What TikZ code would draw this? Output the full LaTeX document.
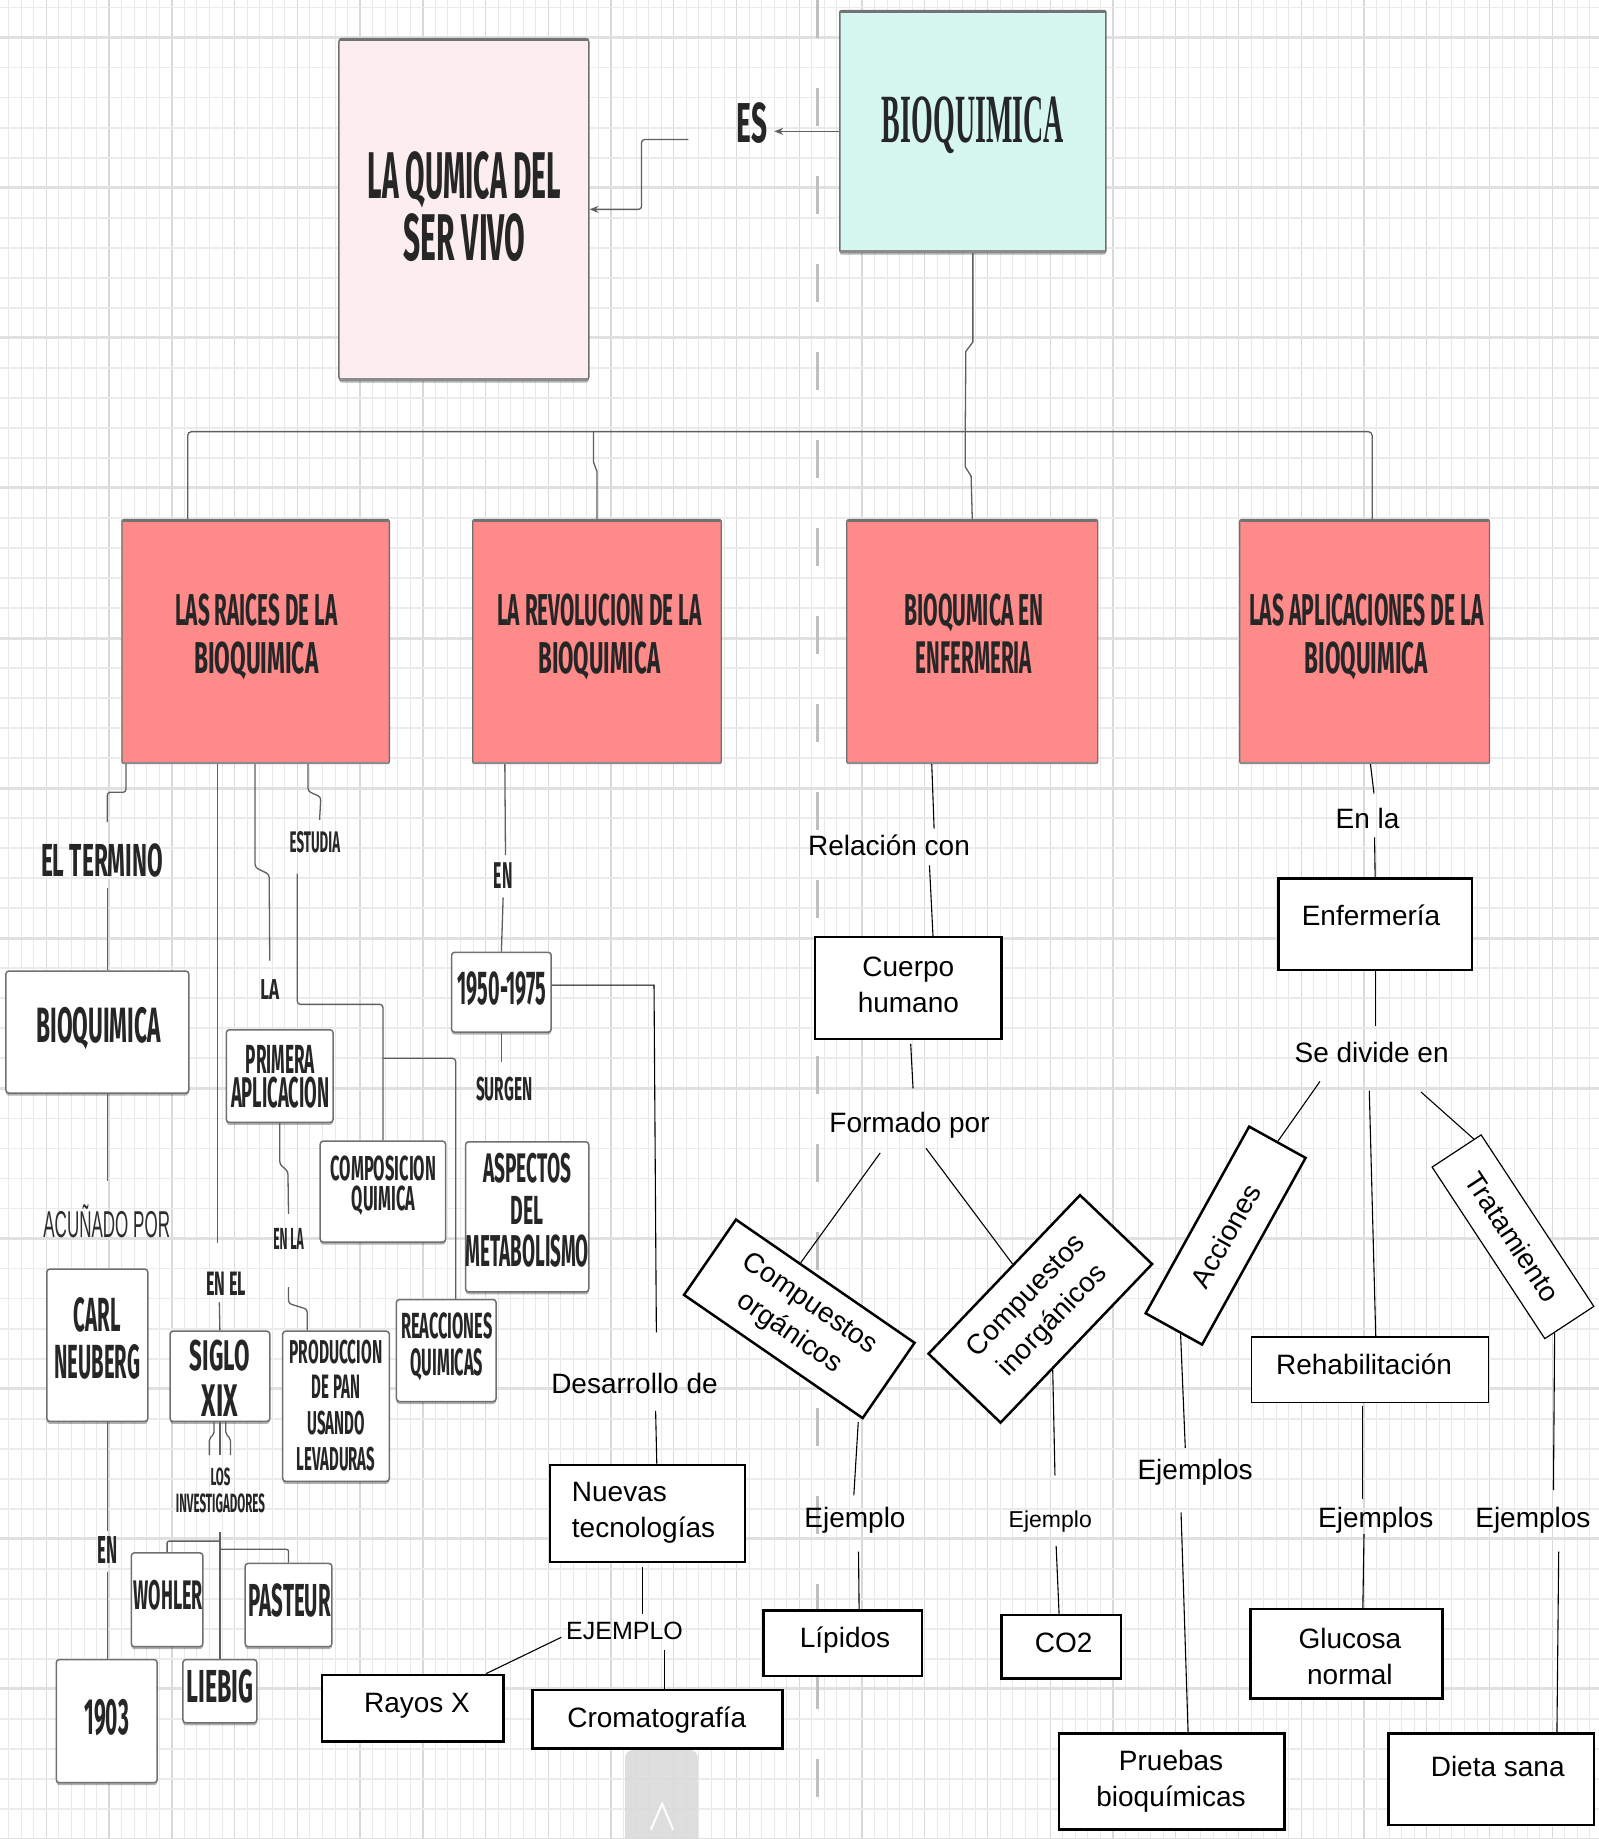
\documentclass[tikz,border=0pt]{standalone}
\usepackage{fontspec}
\usepackage{graphicx}
\setmainfont{Liberation Sans}
\newfontfamily\comicfam{Fira Sans}
\newfontfamily\serifcond{Liberation Serif}
\usetikzlibrary{calc,arrows.meta,shadows}
\newdimen\myu \myu=1.1732pt
\newcommand{\ct}[3]{\resizebox{#1\myu}{#2\myu}{\comicfam\bfseries #3}}
\newcommand{\st}[3]{\resizebox{#1\myu}{#2\myu}{#3}}
\definecolor{redbox}{HTML}{FF8A8A}
\definecolor{pinkbox}{HTML}{FCEEEE}
\definecolor{cyanbox}{HTML}{D5F7F0}
\definecolor{boxgray}{HTML}{707070}
\definecolor{linegray}{HTML}{5F5F5F}
\definecolor{comictxt}{HTML}{262626}
\definecolor{acugray}{HTML}{2E2E2E}
\tikzset{
  bw/.style={minimum width={#1*1.1732pt}},
  bh/.style={minimum height={#1*1.1732pt}},
  cbox/.style={draw=boxgray, line width=1.5pt, fill=white, rounded corners=3pt, inner sep=0pt,
    drop shadow={shadow xshift=0pt, shadow yshift=-2.5pt, fill=black, opacity=0.3}},
  rbox/.style={draw=boxgray, line width=1.3pt, fill=redbox, rounded corners=2pt, inner sep=0pt},
  abox/.style={draw=black, line width=2.5pt, fill=white, inner sep=0pt, align=center,
    font=\fontsize{28}{36}\selectfont},
  tbox/.style={abox, line width=1.2pt},
  ctx/.style={inner sep=0pt, anchor=north, align=center, text=comictxt, font=\fontsize{10}{#1}\selectfont},
  ctx/.default=14,
  lab/.style={inner sep=0pt, anchor=base, font=\fontsize{28}{36}\selectfont},
  gl/.style={draw=linegray, line width=1.3pt},
  bl/.style={draw=black, line width=1.1pt},
  garr/.style={gl, -{Stealth[length=9pt,width=7pt]}},
  gmin/.style={draw=black!9, line width=0.9pt},
  gmaj/.style={draw=black!15, line width=1.4pt},
  hmin/.style={draw=black!8, line width=1.8pt},
  hmaj/.style={draw=black!12, line width=3pt},
}
\begin{document}
\begin{tikzpicture}[x=1.1732pt, y=-1.1732pt]
\useasboundingbox (0,0) rectangle (1363,1568);
\fill[white] (0,0) rectangle (1363,1568);
% ---------- background grid
\foreach \i in {0,...,128}{
  \pgfmathtruncatemacro{\m}{mod(\i,5)}
  \pgfmathsetmacro{\xx}{-3.3+\i*10.7}
  \ifnum\m=4 \draw[gmaj] (\xx,0) -- (\xx,1568); \else \draw[gmin] (\xx,0) -- (\xx,1568); \fi
}
\foreach \j in {0,...,61}{
  \pgfmathtruncatemacro{\m}{mod(\j,5)}
  \pgfmathsetmacro{\yy}{6.4+\j*25.6}
  \ifnum\m=1 \draw[hmaj] (0,\yy) -- (1363,\yy); \else \draw[hmin] (0,\yy) -- (1363,\yy); \fi
}
\draw[black!25, line width=3pt, dash pattern=on 38pt off 50pt] (697,0) -- (697,1568);
\fill[black!15, opacity=0.85, rounded corners=8pt] (533,1492) rectangle (595,1590);
\draw[white, line width=2pt] (555,1560) -- (564.5,1538) -- (574,1560);

% ---------- top
\node[cbox, fill=pinkbox, bw=213, bh=291] (lq) at (395.5,178.5) {};
\node[ctx=62] (lqT) at (396,129) {\ct{165}{40}{LA QUMICA DEL}\\\ct{104}{40}{SER VIVO}};
\node[cbox, fill=cyanbox, bw=227, bh=206, rounded corners=2pt] (bq) at (829.5,112) {};
\node[ctx, text=black!85] (bqT) at (829.5,82) {\st{155}{39}{\serifcond\bfseries BIOQUIMICA}};
\node[ctx] (esT) at (641,87) {\ct{26}{34}{ES}};

% ---------- level 2 red boxes
\node[rbox, bw=228, bh=208] (rA) at (218,547) {};
\node[rbox, bw=212, bh=208] (rB) at (509,547) {};
\node[rbox, bw=214, bh=208] (rC) at (829,547) {};
\node[rbox, bw=213, bh=208] (rD) at (1163.5,547) {};
\foreach \n in {lq,bq,rA,rB,rC,rD}{
  \draw[line width=3.5pt, black!55, line cap=round] ($(\n.north west)+(2,1.5)$) -- ($(\n.north east)+(-2,1.5)$);
  \draw[line width=2.5pt, black!45, line cap=round] ($(\n.south west)+(2,-1)$) -- ($(\n.south east)+(-2,-1)$);
}
\node[ctx=48] (rAT) at (218.5,506) {\ct{138}{27}{LAS RAICES DE LA}\\\ct{106}{27}{BIOQUIMICA}};
\node[ctx=48] (rBT) at (511,506) {\ct{174}{27}{LA REVOLUCION DE LA}\\\ct{104}{27}{BIOQUIMICA}};
\node[ctx=48] (rCT) at (830.5,506) {\ct{119}{27}{BIOQUMICA EN}\\\ct{99}{27}{ENFERMERIA}};
\node[ctx=48] (rDT) at (1165,506) {\ct{200}{27}{LAS APLICACIONES DE LA}\\\ct{105}{27}{BIOQUIMICA}};

% ---------- left comic part
\node[ctx] (elT) at (87,719) {\ct{104}{28}{EL TERMINO}};
\node[cbox, bw=156, bh=104] (lbq) at (83,880) {};
\node[ctx] (lbqT) at (84,859) {\ct{106}{30}{BIOQUIMICA}};
\node[ctx, text=acugray] (acuT) at (91,1027) {\st{108}{28}{ACUÑADO POR}};
\node[cbox, bw=86, bh=130] (carl) at (83,1147) {};
\node[ctx=47] (carlT) at (83,1106) {\ct{40}{29}{CARL}\\\ct{73}{29}{NEUBERG}};
\node[ctx] (enAT) at (91.5,1310) {\ct{17}{23}{EN}};
\node[cbox, bw=86, bh=105] (y1903) at (91,1467.5) {};
\node[ctx] (y1903T) at (91,1449) {\ct{38}{30}{1903}};
\node[ctx] (enelT) at (193,1084) {\ct{34}{20}{EN EL}};
\node[cbox, bw=85, bh=77] (siglo) at (187.5,1173.5) {};
\node[ctx=46] (sigloT) at (187.5,1142) {\ct{51}{26}{SIGLO}\\\ct{31}{27}{XIX}};
\node[ctx=27] (invT) at (188,1251) {\ct{17}{15}{LOS}\\\ct{76}{16}{INVESTIGADORES}};
\node[cbox, bw=61, bh=80] (woh) at (142.5,1364) {};
\node[ctx] (wohT) at (143.5,1347) {\ct{59}{25}{WOHLER}};
\node[cbox, bw=74, bh=71] (pas) at (246,1368.5) {};
\node[ctx] (pasT) at (247,1350) {\ct{70}{28}{PASTEUR}};
\node[cbox, bw=63, bh=54] (lie) at (187.5,1442) {};
\node[ctx] (lieT) at (187.5,1423) {\ct{57}{28}{LIEBIG}};
\node[ctx] (laT) at (230,835) {\ct{16}{17}{LA}};
\node[cbox, bw=91, bh=79] (prim) at (238.5,917.5) {};
\node[ctx=34] (primT) at (239,891) {\ct{59}{24}{PRIMERA}\\\ct{84}{26}{APLICACION}};
\node[ctx] (enlaT) at (246,1047) {\ct{26}{18}{EN LA}};
\node[cbox, bw=91, bh=128] (prod) at (286.5,1199) {};
\node[ctx=35.8] (prodT) at (286.5,1142) {\ct{79}{20}{PRODUCCION}\\\ct{41}{20}{DE PAN}\\\ct{49}{20}{USANDO}\\\ct{67}{20}{LEVADURAS}};
\node[ctx] (estT) at (268.5,709) {\ct{43}{18}{ESTUDIA}};
\node[cbox, bw=107, bh=86] (comp) at (326.5,1016) {};
\node[ctx=30.5] (compT) at (327,985) {\ct{90}{21}{COMPOSICION}\\\ct{54}{21}{QUIMICA}};
\node[cbox, bw=85, bh=87] (reac) at (380.5,1151.5) {};
\node[ctx=37.5] (reacT) at (381,1119) {\ct{78}{22}{REACCIONES}\\\ct{62}{23}{QUIMICAS}};
\node[ctx] (enBT) at (429,735) {\ct{16}{22}{EN}};
\node[cbox, bw=85, bh=68] (y1950) at (427.5,846) {};
\node[ctx] (y1950T) at (428,828) {\ct{76}{28}{1950-1975}};
\node[ctx] (surT) at (430,918) {\ct{48}{20}{SURGEN}};
\node[cbox, bw=105, bh=128] (asp) at (449.5,1037.5) {};
\node[ctx=42] (aspT) at (449.5,983) {\ct{75}{25}{ASPECTOS}\\\ct{28}{24}{DEL}\\\ct{105}{27}{METABOLISMO}};

% ---------- right part (Arial)
\node[lab] (desT) at (541,1188) {Desarrollo de};
\node[abox, bw=166, bh=83] (nuev) at (552,1290.5) {};
\node[lab, anchor=north west, align=left] (nuevT) at (487.5,1264) {Nuevas\\tecnologías};
\node[lab, font=\fontsize{25}{30}\selectfont] (ejemT) at (532.5,1398) {EJEMPLO};
\node[abox, bw=155, bh=57] (rayos) at (352,1456.5) {};
\node[lab] (rayosT) at (355.5,1460) {Rayos X};
\node[abox, bw=213, bh=50] (crom) at (560.5,1466) {};
\node[lab] (cromT) at (560,1473) {Cromatografía};

\node[lab] (relT) at (758,729) {Relación con};
\node[abox, bw=159, bh=87] (cuerpo) at (774.5,842.5) {};
\node[lab, anchor=north, align=center] (cuerpoT) at (774.5,816) {Cuerpo\\humano};
\node[lab] (formT) at (775.5,966) {Formado por};
\node[abox, bw=185, bh=78, rotate=-34.6] (org) at (681.5,1124.5) {Compuestos\\orgánicos};
\node[abox, bw=187, bh=85, rotate=46.3] (inorg) at (887,1116) {Compuestos\\inorgánicos};
\node[lab] (ej1T) at (729,1302) {Ejemplo};
\node[lab, font=\fontsize{23}{28}\selectfont] (ej2T) at (895.5,1302) {Ejemplo};
\node[abox, bw=135, bh=56] (lip) at (718.5,1401) {};
\node[lab] (lipT) at (720.5,1405) {Lípidos};
\node[abox, bw=102, bh=54] (co2) at (905,1404) {};
\node[lab] (co2T) at (907,1409) {CO2};

\node[lab] (enla2T) at (1166,706) {En la};
\node[abox, bw=165, bh=78] (enf) at (1172.5,788) {};
\node[lab] (enfT) at (1169,789) {Enfermería};
\node[lab] (sedT) at (1169.5,906) {Se divide en};
\node[abox, bw=182, bh=55, rotate=61] (acc) at (1045,1053.5) {Acciones};
\node[tbox, bw=175, bh=50, rotate=-56.7] (trat) at (1290,1054.5) {Tratamiento};
\node[tbox, bw=202, bh=56] (rehab) at (1168,1168) {};
\node[lab] (rehabT) at (1163,1172) {Rehabilitación};
\node[lab] (ejsA) at (1019,1261.5) {Ejemplos};
\node[lab] (ejsR) at (1173,1302) {Ejemplos};
\node[lab] (ejsT) at (1307,1302) {Ejemplos};
\node[abox, bw=192, bh=82] (prue) at (999,1519) {};
\node[lab, anchor=north, align=center] (prueT) at (998.5,1492.5) {Pruebas\\bioquímicas};
\node[abox, bw=164, bh=76] (gluc) at (1148,1410) {};
\node[lab, anchor=north, align=center] (glucT) at (1151,1388) {Glucosa\\normal};
\node[abox, bw=175, bh=78] (dieta) at (1271.5,1517) {};
\node[lab] (dietaT) at (1277,1515) {Dieta sana};

% ---------- connectors: top
\draw[garr] (bq.west) -- ($(esT.east |- bq.west)+(6,0)$);
\coordinate (esout) at (587,119);
\draw[garr, rounded corners=3] (esout) -- ++(-40,0) |- (lq.east);
\coordinate (jA) at (160,368);
\coordinate (jB) at (506,368);
\coordinate (jC) at (823,368);
\coordinate (jD) at (1170,368);
\draw[gl, rounded corners=4] (rA.north -| jA) -- (jA) -- (jD) -- (rD.north -| jD);
\draw[gl] (jB) -- ++(0,26) -- ++(3,8) -- (rB.north);
\draw[gl] (bq.south) -- ++(0,76) -- ++(-6,8) -- (jC) -- ++(0,30) -- ++(5,8) -- (rC.north);

% ---------- connectors: A branch
\draw[gl, rounded corners=3] ($(rA.south west)+(4,0)$) -- ++(0,24) -- ++(-16,0) coordinate (t1) -- ($(t1 |- elT.north)+(0,-18)$);
\draw[gl] ($(t1 |- elT.south)+(0,9)$) -- (t1 |- lbq.north);
\draw[gl] (t1 |- lbq.south) -- ($(t1 |- acuT.north)+(0,-20)$);
\draw[gl] (t1 |- carl.south) -- ($(t1 |- enAT.north)+(0,-5)$);
\draw[gl] ($(t1 |- enAT.south)+(0,7)$) -- (t1 |- y1903.north);
\draw[gl] ($(rA.south west)+(82,0)$) -- ++(0,408);
\draw[gl] ($(enelT.south)+(-6,6)$) -- (siglo.north);
\draw[gl, rounded corners=2] ($(siglo.south)+(-5,0)$) -- ++(0,10) -- ++(-4,4) -- ++(0,14);
\draw[gl] (siglo.south) -- ++(0,28);
\draw[gl, rounded corners=2] ($(siglo.south)+(5,0)$) -- ++(0,10) -- ++(4,4) -- ++(0,14);
\coordinate (invb) at (187.5,1306);
\draw[gl] (invb) -- (lie.north);
\draw[gl, rounded corners=2] ($(invb)+(0,8)$) -| (woh.north);
\draw[gl, rounded corners=2] ($(invb)+(1,15)$) -| (pas.north);
\draw[gl, rounded corners=3] ($(rA.south)+(-0.5,0)$) -- ++(0,88) -- ++(12,6) -- ($(laT.north)+(0,-16)$);
\draw[gl, rounded corners=3] (prim.south) -- ++(0,35) -- ++(7,6) -- ($(enlaT.north)+(0,-12)$);
\draw[gl, rounded corners=3] ($(enlaT.south)+(0,32)$) -- ++(0,14) -- ++(16,5) coordinate (t3) -- (t3 |- prod.north);
\draw[gl, rounded corners=3] ($(rA.south east)+(-70,0)$) -- ++(0,23) -- ++(11,5) -- ($(estT.north)+(4,-10)$);
\draw[gl, rounded corners=3] ($(estT.south)+(-15,17)$) |- ($(comp.north)+(0,-116)$) -- (comp.north);
\draw[gl, rounded corners=3] ($(comp.north)+(0,-70)$) -| ($(reac.north)+(8,0)$);

% ---------- connectors: B branch
\draw[gl] ($(rB.south west)+(28,0)$) -- ($(enBT.north)+(2,-6)$);
\draw[gl] ($(enBT.south)+(0,8)$) -- (y1950.north);
\draw[gl] (y1950.south) -- ++(0,25);
\draw[bl] ($(y1950.east)+(0,-6)$) -- ++(87,0) -- ++(2,296);
\draw[bl] ($(nuev.north)+(7,-45)$) -- ($(nuev.north)+(8,0)$);
\draw[bl] ($(nuev.south)+(-4,3)$) -- ++(0,40);
\draw[bl] ($(ejemT.base west)+(-4,-2)$) -- ($(rayos.north east)+(-16,0)$);
\draw[bl] ($(ejemT.base)+(34,9)$) -- ($(crom.north)+(6,0)$);

% ---------- connectors: C branch
\draw[bl] ($(rC.south west)+(73,0)$) -- ++(2,55);
\draw[bl] ($(cuerpo.north)+(18,-60)$) -- ($(cuerpo.north)+(21,0)$);
\draw[bl] ($(cuerpo.south)+(2,3)$) -- ++(2,38);
\draw[bl] ($(formT.base)+(-25,17)$) -- ($(org.north west)!0.36!(org.north east)$);
\draw[bl] ($(formT.base)+(14,13)$) -- ($(inorg.north west)!0.56!(inorg.north east)$);
\draw[bl] ($(org.south east)+(-4,2)$) -- ($(ej1T.base)+(-1,-27)$);
\draw[bl] ($(ej1T.base)+(3,21)$) -- ($(lip.north)+(14,0)$);
\draw[bl] ($(inorg.south west)!0.34!(inorg.south east)$) -- ($(ej2T.base)+(4,-44)$);
\draw[bl] ($(ej2T.base)+(5,16)$) -- ($(co2.north)+(-2,0)$);

% ---------- connectors: D branch
\draw[bl] ($(rD.south)+(5,0)$) -- ++(3,25);
\draw[bl] ($(enla2T.base)+(6,8)$) -- (enf.north);
\draw[bl] (enf.south) -- ++(0,47);
\draw[bl] ($(sedT.base)+(-44,16)$) -- (acc.east);
\draw[bl] ($(sedT.base)+(-2,24)$) -- ($(rehab.north)+(5,0)$);
\draw[bl] ($(sedT.base)+(42,25)$) -- ($(trat.west)!0.7!(trat.north west)$);
\draw[bl] ($(acc.west)!0.25!(acc.south west)$) -- ++(4,97);
\draw[bl] ($(ejsA.base)+(-12,28)$) -- ($(prue.north)+(14,0)$);
\draw[bl] ($(rehab.south)+(-6,2)$) -- ++(0,80);
\draw[bl] ($(ejsR.base)+(-10,6)$) -- ($(gluc.north)+(14,0)$);
\draw[bl] ($(trat.east)!0.6!(trat.south east)$) -- ++(-1,134);
\draw[bl] ($(ejsT.base)+(22,21)$) -- ($(dieta.north)+(56,0)$);
\end{tikzpicture}
\end{document}
